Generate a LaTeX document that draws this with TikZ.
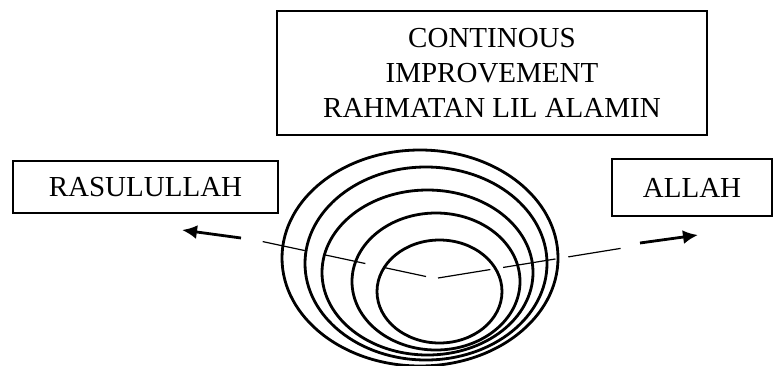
\documentclass[tikz,border=0pt]{standalone}
\usepackage{fontspec}
\setmainfont{Liberation Serif}
\usetikzlibrary{arrows.meta}

\begin{document}
\begin{tikzpicture}[x=1pt, y=-1pt,
    box/.style={draw, line width=2pt, font=\fontsize{29}{35}\selectfont, align=center, inner sep=0pt},
    ring/.style={line width=2.8pt},
    thin/.style={line width=1.2pt},
    arr/.style={line width=2.8pt, -{Latex[length=15pt,width=14pt]}}]
    \useasboundingbox (0,0) rectangle (774,365);
    \node[box, minimum width=430, minimum height=124] (1) at (492, 73) {CONTINOUS\\IMPROVEMENT\\RAHMATAN LIL ALAMIN};
    \node[box, minimum width=265, minimum height=52] (2) at (145.5, 187) {RASULULLAH};
    \node[box, minimum width=160, minimum height=57] (3) at (692, 187.5) {ALLAH};
    % nested circles
    \draw[ring] (420, 258) ellipse [x radius=138, y radius=108];
    \draw[ring] (426, 263.5) ellipse [x radius=121, y radius=96.5];
    \draw[ring] (427.5, 272.5) ellipse [x radius=105.5, y radius=82.5];
    \draw[ring] (436, 281.5) ellipse [x radius=84, y radius=68.5];
    \draw[ring] (439.5, 291.5) ellipse [x radius=62.5, y radius=51.5];
    \coordinate (l0) at (426, 276.5);
    \coordinate (l1) at (260, 241);
    \coordinate (l2) at (241, 238);
    \coordinate (l3) at (182, 230);
    \coordinate (r0) at (438, 278);
    \coordinate (r1) at (623, 248);
    \coordinate (r2) at (640, 243);
    \coordinate (r3) at (698, 235);
    \draw[thin, dash pattern=on 43pt off 19pt] (l0) -- (l1);
    \draw[arr] (l2) -- (l3);
    \draw[thin, dash pattern=on 53pt off 13pt] (r0) -- (r1);
    \draw[arr] (r2) -- (r3);
\end{tikzpicture}
\end{document}
